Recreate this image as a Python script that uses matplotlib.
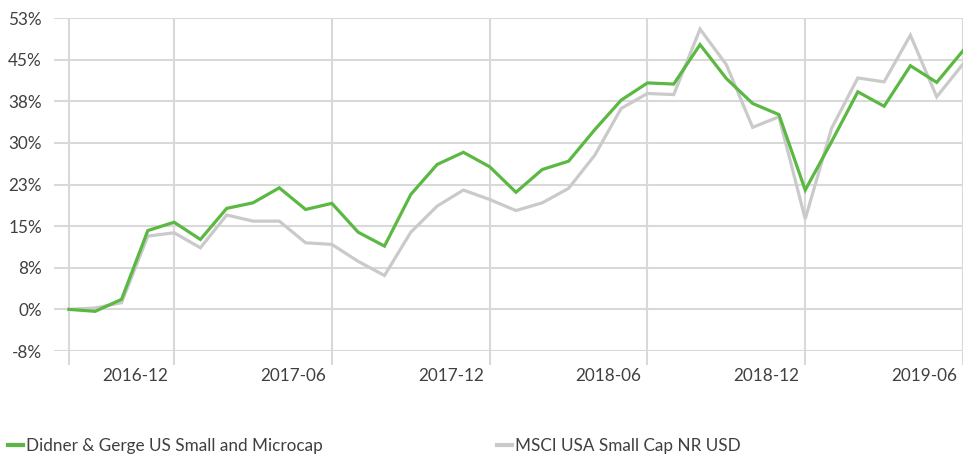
import matplotlib
matplotlib.use("Agg")
import matplotlib.pyplot as plt
from matplotlib.lines import Line2D
from matplotlib.transforms import ScaledTranslation

# ---- data ----
months = ["2016-08", "2016-09", "2016-10", "2016-11", "2016-12", "2017-01", "2017-02",
          "2017-03", "2017-04", "2017-05", "2017-06", "2017-07", "2017-08", "2017-09",
          "2017-10", "2017-11", "2017-12", "2018-01", "2018-02", "2018-03", "2018-04",
          "2018-05", "2018-06", "2018-07", "2018-08", "2018-09", "2018-10", "2018-11",
          "2018-12", "2019-01", "2019-02", "2019-03", "2019-04", "2019-05", "2019-06"]
didner = [0.0, -0.35, 1.8, 14.2, 15.7, 12.6, 18.2, 19.2, 21.9, 18.0, 19.1, 13.9, 11.4,
          20.7, 26.1, 28.3, 25.7, 21.1, 25.2, 26.7, 32.4, 37.7, 40.8, 40.6, 47.7, 41.6,
          37.1, 35.1, 21.5, 30.2, 39.2, 36.6, 43.9, 40.9, 46.6]
msci = [0.0, 0.25, 1.2, 13.2, 13.8, 11.1, 17.0, 15.9, 15.9, 12.0, 11.7, 8.65, 6.1,
        13.9, 18.6, 21.5, 19.8, 17.8, 19.2, 21.8, 27.8, 36.2, 38.9, 38.7, 50.5, 44.1,
        32.8, 34.7, 16.3, 32.6, 41.7, 41.0, 49.4, 38.3, 44.2]
series_names = ["Didner & Gerge US Small and Microcap", "MSCI USA Small Cap NR USD"]
y_ticks = [-7.5, 0, 7.5, 15, 22.5, 30, 37.5, 45, 52.5]
y_tick_labels = ["-8%", "0%", "8%", "15%", "23%", "30%", "38%", "45%", "53%"]
x_tick_months = ["2016-08", "2016-12", "2017-06", "2017-12", "2018-06", "2018-12", "2019-06"]
x_tick_labels = ["", "2016-12", "2017-06", "2017-12", "2018-06", "2018-12", "2019-06"]

GREEN = "#5AB843"
GRAY = "#CACACA"
GRID = "#D9D9D9"
TEXT = "#404040"

plt.rcParams['font.family'] = ['Lato', 'DejaVu Sans']

W, H = 963, 455
fig = plt.figure(figsize=(W / 100, H / 100), dpi=100)
ax = fig.add_axes([54 / W, 1 - 351 / H, (W - 54) / W, (351 - 18) / H])

x = list(range(len(months)))
ax.plot(x, msci, color=GRAY, lw=2.3, solid_joinstyle='miter', zorder=3)
ax.plot(x, didner, color=GREEN, lw=2.3, solid_joinstyle='miter', zorder=4)

step = 26.42
ax.set_xlim(-(69 - 54) / step, (W - 69) / step)
ax.set_ylim(-7.5, 52.5)

ax.set_yticks(y_ticks)
ax.set_yticklabels(y_tick_labels)
xt = [months.index(m) for m in x_tick_months]
ax.set_xticks(xt)
ax.set_xticklabels(x_tick_labels)

ax.grid(True, color=GRID, lw=1.5)
ax.set_axisbelow(True)
for s in ax.spines.values():
    s.set_visible(False)

ax.tick_params(axis='y', length=0, pad=8.6, labelsize=12.3, labelcolor=TEXT)
ax.tick_params(axis='x', length=10.1, width=1.5, color=GRID, direction='out',
               pad=2, labelsize=12.3, labelcolor=TEXT)
off = ScaledTranslation(-6 / 100, 0, fig.dpi_scale_trans)
for lab in ax.get_xticklabels():
    lab.set_horizontalalignment('right')
    lab.set_transform(lab.get_transform() + off)

# legend
for name, col, xpos in [(series_names[0], GREEN, 8), (series_names[1], GRAY, 497)]:
    h = Line2D([], [], color=col, lw=3)
    lg = fig.legend([h], [name], loc='center left', bbox_to_anchor=(xpos / W, 1 - 446 / H),
                    frameon=False, handlelength=0.85, handletextpad=0.2, borderpad=0,
                    borderaxespad=0, fontsize=12.3, labelcolor=TEXT)

fig.savefig("out.png", dpi=100)
